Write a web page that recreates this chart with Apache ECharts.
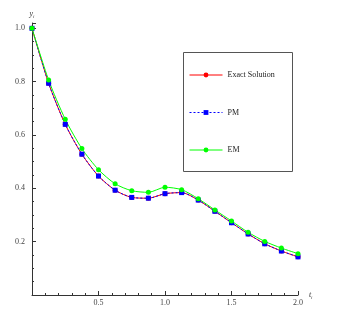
<!DOCTYPE html>
<html><head><meta charset="utf-8">
<script src="https://cdn.jsdelivr.net/npm/echarts@6/dist/echarts.min.js"></script>
<style>html,body{margin:0;padding:0;background:#fff}#c{width:350px;height:309px}</style>
</head><body><div id="c"></div>
<script>
const tValues = [0, 0.125, 0.25, 0.375, 0.5, 0.625, 0.75, 0.875, 1.0, 1.125, 1.25, 1.375, 1.5, 1.625, 1.75, 1.875, 2.0];
const exactValues = [1.0, 0.794, 0.640, 0.528, 0.446, 0.393, 0.366, 0.363, 0.380, 0.384, 0.356, 0.314, 0.271, 0.229, 0.192, 0.165, 0.143];
const pmValues = [1.0, 0.794, 0.640, 0.528, 0.446, 0.393, 0.366, 0.363, 0.380, 0.384, 0.356, 0.314, 0.271, 0.229, 0.192, 0.165, 0.143];
const emValues = [1.0, 0.806, 0.659, 0.549, 0.470, 0.417, 0.391, 0.385, 0.404, 0.395, 0.361, 0.319, 0.2775, 0.235, 0.201, 0.176, 0.155];
const seriesNames = ['Exact Solution', 'PM', 'EM'];

const pairs = v => tValues.map((t, i) => [t, v[i]]);
const font = "'Liberation Serif','DejaVu Serif',serif";
const chart = echarts.init(document.getElementById('c'));
chart.setOption({
  animation: false,
  backgroundColor: '#fff',
  grid: { left: 32, right: 52, top: 23, bottom: 14 },
  xAxis: {
    type: 'value', min: 0, max: 2.0, interval: 0.5,
    name: '{i|t}{s|i}', nameLocation: 'end', nameGap: 8,
    nameTextStyle: { rich: { i: { fontFamily: font, fontStyle: 'italic', fontSize: 8, color: '#333' }, s: { fontFamily: font, fontStyle: 'italic', fontSize: 5, color: '#333', padding: [6, 0, 0, 0] } } },
    axisLine: { onZero: false, lineStyle: { color: '#333', width: 1 } },
    axisTick: { inside: true, length: 4, lineStyle: { color: '#333' } },
    minorTick: { show: true, splitNumber: 5, length: 2, lineStyle: { color: '#333' } },
    splitLine: { show: false },
    axisLabel: { fontFamily: font, fontSize: 8, color: '#444', margin: 4, showMinLabel: false, formatter: v => v.toFixed(1) }
  },
  yAxis: {
    type: 'value', min: 0, max: 1.02, interval: 0.2,
    name: '{i|y}{s|i}', nameLocation: 'end', nameGap: 4,
    nameTextStyle: { align: 'center', rich: { i: { fontFamily: font, fontStyle: 'italic', fontSize: 8, color: '#333' }, s: { fontFamily: font, fontStyle: 'italic', fontSize: 5, color: '#333', padding: [6, 0, 0, 0] } } },
    axisLine: { show: true, onZero: false, lineStyle: { color: '#333', width: 1 } },
    axisTick: { show: true, inside: true, length: 4, lineStyle: { color: '#333' } },
    minorTick: { show: true, splitNumber: 4, length: 2, lineStyle: { color: '#333' } },
    splitLine: { show: false },
    axisLabel: { fontFamily: font, fontSize: 8, color: '#444', margin: 7, showMinLabel: false, showMaxLabel: false, formatter: v => v.toFixed(1) }
  },
  legend: {
    orient: 'vertical', left: 189, top: 71, itemWidth: 33, itemHeight: 6, itemGap: 29.5,
    padding: 0,
    lineStyle: { width: 1 },
    textStyle: { fontFamily: font, fontSize: 8, color: '#222', padding: [0, 0, 0, 0] },
    data: seriesNames
  },
  graphic: [{ type: 'rect', shape: { x: 183.5, y: 52.5, width: 109, height: 119 }, style: { fill: 'none', stroke: '#555', lineWidth: 1 }, z: 100 }],
  series: [
    { name: seriesNames[0], type: 'line', data: pairs(exactValues), smooth: 0.25, symbol: 'circle', symbolSize: 5,
      itemStyle: { color: '#ff0000' }, lineStyle: { color: '#ff0000', width: 1 } },
    { name: seriesNames[1], type: 'line', data: pairs(pmValues), smooth: 0.25, symbol: 'rect', symbolSize: 5,
      itemStyle: { color: '#0000ff' }, lineStyle: { color: '#0000ff', width: 1, type: [2, 2] } },
    { name: seriesNames[2], type: 'line', data: pairs(emValues), smooth: 0.25, symbol: 'circle', symbolSize: 5,
      itemStyle: { color: '#00ff00' }, lineStyle: { color: '#00ff00', width: 1 } }
  ]
});
</script></body></html>
